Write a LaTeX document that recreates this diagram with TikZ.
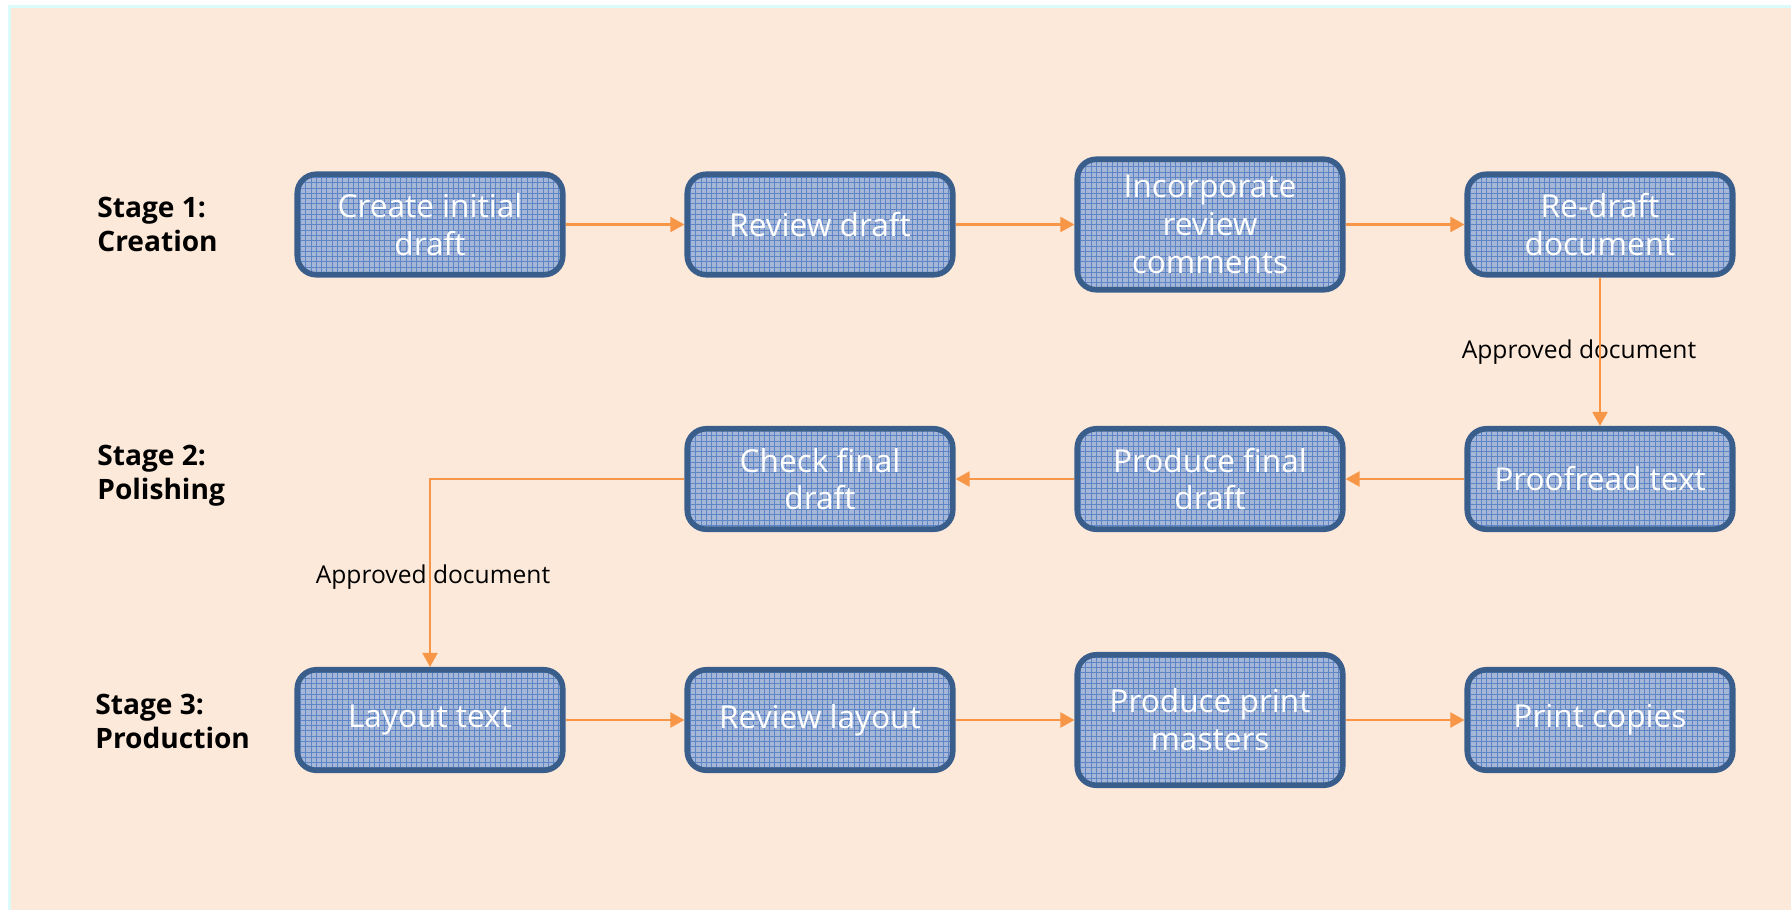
\documentclass[tikz,border=0pt]{standalone}
\usepackage{fontspec}
\setmainfont{Open Sans}
\usetikzlibrary{arrows.meta,patterns}
\definecolor{peach}{RGB}{253,233,217}
\definecolor{framecyan}{RGB}{219,250,250}
\definecolor{boxline}{RGB}{58,94,140}
\definecolor{boxfill}{RGB}{166,182,214}
\definecolor{boxgrid}{RGB}{92,134,200}
\definecolor{floworange}{RGB}{247,150,70}
\tikzstyle{stepbox}=[rectangle, rounded corners=0.38cm, draw=boxline, line width=3.2pt,
  preaction={fill=boxfill}, pattern=grid, pattern color=boxgrid,
  minimum width=5.31cm, minimum height=2.01cm, align=center, text=white,
  font=\fontsize{18}{21.5}\selectfont]
\tikzstyle{tallbox}=[stepbox, minimum height=2.61cm]
\tikzstyle{flowline}=[draw=floworange, line width=1.3pt, -{Triangle[width=8.5pt,length=8pt]}]
\tikzstyle{stage}=[anchor=west, align=left, inner sep=0pt, font=\bfseries\fontsize{16}{19.4}\selectfont]
\tikzstyle{note}=[font=\fontsize{14}{17}\selectfont]

\begin{document}
\begin{tikzpicture}[x=0.02cm, y=-0.02cm]
			% Hintergrund
			\useasboundingbox (0,0) rectangle (1791,910);
			\fill[white] (0,0) rectangle (1791,910);
			\fill[framecyan] (8,5) rectangle (1791,910);
			\fill[peach] (11,8) rectangle (1791,910);
			% Stufen beschriften
			\node[stage] (stage1) at (97,224) {Stage 1:\\Creation};
			\node[stage] (stage2) at (97,476) {Stage 2:\\Polishing};
			\node[stage] (stage3) at (95,721) {Stage 3:\\Production};
			% Stufe 1
			\node[stepbox] (create) at (430,224.5) {Create initial\\draft};
			\node[stepbox] (review) at (820,224.5) {Review draft};
			\node[tallbox] (incorp) at (1210,224.5) {Incorporate\\review\\comments};
			\node[stepbox] (redraft) at (1600,224.5) {Re-draft\\document};
			% Stufe 2
			\node[stepbox] (proof) at (1600,479) {Proofread text};
			\node[stepbox] (prodfinal) at (1210,479) {Produce final\\draft};
			\node[stepbox] (checkfinal) at (820,479) {Check final\\draft};
			% Stufe 3
			\node[stepbox] (layout) at (430,720) {Layout text};
			\node[stepbox] (revlayout) at (820,720) {Review layout};
			\node[tallbox] (masters) at (1210,720) {Produce print\\masters};
			\node[stepbox] (print) at (1600,720) {Print copies};
			% Freigaben
			\node[note] (approve1) at (1579,352) {Approved document};
			\node[note] (approve2) at (433,577) {Approved document};
			% Pfeile zeichnen
			\draw[flowline] (create) -- (review);
			\draw[flowline] (review) -- (incorp);
			\draw[flowline] (incorp) -- (redraft);
			\draw[flowline] (redraft) -- (proof);
			\draw[flowline] (proof) -- (prodfinal);
			\draw[flowline] (prodfinal) -- (checkfinal);
			\draw[flowline] (checkfinal.west) -| (layout.north);
			\draw[flowline] (layout) -- (revlayout);
			\draw[flowline] (revlayout) -- (masters);
			\draw[flowline] (masters) -- (print);
		\end{tikzpicture}
\end{document}
